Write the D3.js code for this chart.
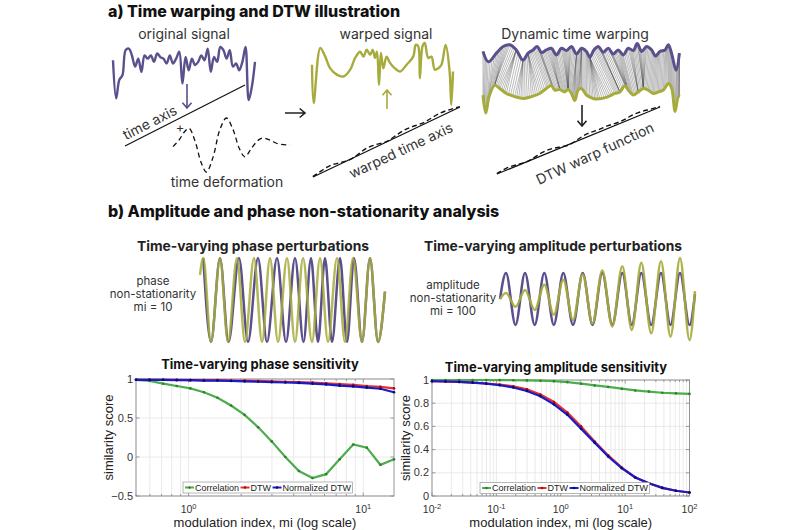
<!DOCTYPE html>
<html>
<head>
<meta charset="utf-8">
<script src="https://cdn.jsdelivr.net/npm/d3@7"></script>
<style>
  body { margin: 0; background: #fff; }
  svg text { font-family: Inter, "Open Sans", sans-serif; fill: #333; }
  .ax text { font-family: "Liberation Sans", Arial, sans-serif; }
</style>
</head>
<body>
<div id="fig"></div>
<script>
// ---- a) illustration signals, heights 0-100 ----
const origSignal = [75,3,38,47,94,97,84,63,78,53,84,78,84,72,88,81,78,69,84,69,78,91,31,81,56,78,66,72,84,75,97,53,81,72,100,94,78,94,63,69,56,72,100,0,25,72];

const warpedT = [0,1.2,5.9,9.4,12.9,17.6,22.4,27.1,30.6,34.1,36.5,38.8,41.2,43.1,44.7,46.1,47.5,48.9,50.6,52.9,55.3,58.8,62.4,67.1,71.8,73.6,75.3,76.5,78.4,80,82.4,84.7,87.1,89.4,91.8,94.8,97.6,98.8,100];
const warpedV = [65,3,92,78,59,49,46,57,76,86,78,89,81,89,76,86,32,84,59,78,68,59,54,65,78,97,95,43,95,100,76,78,57,59,65,97,54,0,54];

const dtwTopT = [0,2.7,6.8,10.2,13.6,16.9,20.3,22.9,25.4,27.5,29.7,32.2,34.7,37.3,39.8,42.4,44.9,47.5,50,52.5,54.2,56.3,58.5,61,63.6,66.1,68.6,71.2,73.7,76.3,78.3,80.5,83.1,85.6,87.6,89.8,92.4,94.1,95.8,98,99.7];
const dtwTopV = [71,35,65,88,94,76,41,65,76,88,67,76,82,59,82,74,88,62,82,71,51,76,88,68,82,62,76,59,82,74,98,71,88,76,55,71,76,94,62,6,65];
const dtwBotT = [0,1.4,3.1,5.9,8.5,11.9,16.1,20.3,24.6,28.8,32.2,34.7,36.4,39,41.5,43.2,44.9,46.6,48.3,50,52.5,55.9,59.3,63.6,66.9,69.5,72,73.7,76.3,78.8,81.4,83.9,86.4,89,91.5,94.1,95.8,97.5,99.2,100];
const dtwBotV = [58,0,53,89,79,63,53,47,53,63,79,89,74,76,68,76,63,40,74,79,58,47,46,53,63,68,89,74,58,68,79,74,63,68,74,95,79,5,53,53];

const deformT = [0,5.1,10,13.7,18.6,24.3,28.6,34.3,40,45.7,51.4,56.6,61.4,67.1,72.9,77.1,82.9,90,100];
const deformV = [47,59,75,81,59,16,0,28,78,100,78,44,28,44,59,63,59,52,50];

// small wiggles of the dashed warp curves around their axis
const warpAxisDev = [0,0.5,1,0.3,-0.5,0.2,1,0.6,-0.3,0.4,1,0.8,0.2,0.6,1,0.5,0];
const dtwWarpDev = [0,0.6,0.2,-0.4,0.5,1,0.4,-0.6,0.3,1,0.5,0.8,0.2,0.7,1,0.4,0];

// ---- b) perturbation waves: extrema times and values ----
const phaseOliveT = [0,3.3,11,20,28,37,45,54,62,70,78,87,95,103,112,120,128,137,145,153,162,170,178,185];
const phaseOliveV = [0.6,1,-1,1,-1,1,-1,1,-1,1,-1,1,-1,1,-1,1,-1,1,-1,1,-1,1,-1,0.2];
const phasePurpleT = [3.3,11,20,28.5,39,48,58,67,77,86,95,103.5,111,118,125,132,140,147,154,162,170,178,185];
const phasePurpleV = [1,-1,1,-1,1,-1,1,-1,1,-1,1,-1,1,-1,1,-1,1,-1,1,-1,1,-1,0.2];

const ampT = [0,6,15.5,25,34.7,44.3,53.8,63.3,73,82.7,92.5,102.3,112.3,122.3,131.8,141.3,151.2,161,170.5,180,189.5,195];
const ampPurpleV = [0,1,-1,1,-1,1,-1,1,-1,1,-1,1,-1,1,-1,1,-1,1,-1,1,-1,0.2];
const ampOliveV = [0,0.23,-0.3,0.35,-0.42,0.55,-0.6,0.74,-0.81,0.94,-0.94,1.1,-1.06,1.26,-1.19,1.39,-1.32,1.45,-1.45,1.58,-1.58,0.3];

// ---- b) sensitivity curves ----
const seriesNames = ["Correlation", "DTW", "Normalized DTW"];
const phaseMi = [0.5,0.598,0.715,0.855,1.023,1.224,1.463,1.750,2.093,2.504,2.994,3.581,4.283,5.123,6.127,7.327,8.764,10.48,12.54,15];
const corrPhase = [0.99,0.975,0.94,0.91,0.88,0.83,0.76,0.66,0.54,0.38,0.2,0.0,-0.18,-0.27,-0.22,-0.03,0.16,0.12,-0.1,-0.03];
const dtwPhase = [0.99,0.99,0.99,0.99,0.985,0.985,0.985,0.98,0.98,0.975,0.97,0.965,0.96,0.955,0.945,0.935,0.925,0.91,0.9,0.88];
const ndtwPhase = [0.99,0.99,0.99,0.985,0.985,0.98,0.98,0.975,0.97,0.965,0.96,0.955,0.95,0.94,0.93,0.915,0.905,0.89,0.875,0.83];

const ampMi = [0.01,0.0162,0.0264,0.0428,0.0695,0.113,0.183,0.298,0.483,0.785,1.27,2.07,3.36,5.46,8.86,14.4,23.4,37.9,61.6,100];
const corrAmp = [1,1,1,1,1,0.999,0.998,0.997,0.994,0.99,0.982,0.968,0.953,0.94,0.925,0.91,0.9,0.89,0.885,0.88];
const dtwAmp = [0.99,0.987,0.983,0.978,0.97,0.96,0.945,0.92,0.875,0.81,0.72,0.6,0.47,0.35,0.245,0.16,0.11,0.07,0.045,0.03];
const ndtwAmp = [0.99,0.987,0.983,0.977,0.968,0.955,0.935,0.905,0.86,0.79,0.7,0.58,0.46,0.34,0.24,0.16,0.11,0.07,0.045,0.03];

const W = 800, H = 530;
const purple = "#5b4f8c", olive = "#a6ab3b";

const svg = d3.select("#fig").append("svg").attr("width", W).attr("height", H);

function label(x, y, txt, size, opts = {}) {
  const t = svg.append("text").attr("x", x).attr("y", y).attr("font-size", size)
    .attr("text-anchor", opts.anchor || "middle").text(txt);
  if (opts.weight) t.attr("font-weight", opts.weight);
  if (opts.fill) t.style("fill", opts.fill);
  if (opts.rotate != null) t.attr("transform", `rotate(${opts.rotate},${x},${y})`);
  return t;
}

function arrow(x1, y1, x2, y2, color) {
  const a = Math.atan2(y2 - y1, x2 - x1), h = 7;
  svg.append("path")
    .attr("d", `M${x1},${y1}L${x2},${y2}` +
      `M${x2 - h * Math.cos(a - 0.7)},${y2 - h * Math.sin(a - 0.7)}L${x2},${y2}` +
      `L${x2 - h * Math.cos(a + 0.7)},${y2 - h * Math.sin(a + 0.7)}`)
    .attr("fill", "none").attr("stroke", color).attr("stroke-width", 1.6);
}

function warpAxis(p0, p1, dev) {
  svg.append("line").attr("x1", p0[0]).attr("y1", p0[1]).attr("x2", p1[0]).attr("y2", p1[1])
    .attr("stroke", "#111").attr("stroke-width", 1.2);
  if (!dev) return;
  const dx = p1[0] - p0[0], dy = p1[1] - p0[1], len = Math.hypot(dx, dy);
  const nx = dy / len, ny = -dx / len;
  const s = d3.scaleLinear([0, dev.length - 1], [0, 1]);
  const off = d3.scaleLinear([-1, 1], [-2.5, 3.5]);
  const pts = dev.map((d, i) => [p0[0] + s(i) * dx + off(d) * nx, p0[1] + s(i) * dy + off(d) * ny]);
  svg.append("path").attr("d", d3.line().curve(d3.curveBasis)(pts))
    .attr("fill", "none").attr("stroke", "#111").attr("stroke-width", 1.4).attr("stroke-dasharray", "5,3");
}

const smooth = d3.line().curve(d3.curveCatmullRom.alpha(0.5));

// ================= a) =================
label(108, 17, "a) Time warping and DTW illustration", 16, { anchor: "start", weight: 800, fill: "#111" });

// original signal
label(184, 39, "original signal", 14);
{
  const x = d3.scaleLinear([0, origSignal.length - 1], [113, 255]);
  const y = d3.scaleLinear([0, 100], [100, 47]);
  svg.append("path").attr("d", smooth(origSignal.map((v, i) => [x(i), y(v)])))
    .attr("fill", "none").attr("stroke", purple).attr("stroke-width", 2.4).attr("stroke-linejoin", "round");
}
arrow(187, 84, 187, 108, purple);
warpAxis([125, 146], [245, 85]);
label(152, 127, "time axis", 14, { rotate: -27 });
label(180, 132, "+", 13);

// time deformation
{
  const x = d3.scaleLinear([0, 100], [173, 290]);
  const y = d3.scaleLinear([0, 100], [172, 118]);
  svg.append("path").attr("d", smooth(deformT.map((t, i) => [x(t), y(deformV[i])])))
    .attr("fill", "none").attr("stroke", "#111").attr("stroke-width", 1.3).attr("stroke-dasharray", "5,3.5");
}
label(227, 187, "time deformation", 14);
arrow(285, 113, 305, 113, "#222");

// warped signal
label(386, 39, "warped signal", 14);
{
  const x = d3.scaleLinear([0, 100], [312, 453]);
  const y = d3.scaleLinear([0, 100], [105, 43]);
  svg.append("path").attr("d", smooth(warpedT.map((t, i) => [x(t), y(warpedV[i])])))
    .attr("fill", "none").attr("stroke", olive).attr("stroke-width", 2.4).attr("stroke-linejoin", "round");
}
arrow(387, 109, 387, 90, olive);
warpAxis([313, 177], [460, 107], warpAxisDev);
label(403, 155, "warped time axis", 14, { rotate: -25 });

// dynamic time warping
label(575, 39, "Dynamic time warping", 14);
{
  const x = d3.scaleLinear([0, 100], [483, 680]);
  const yTop = d3.scaleLinear([0, 100], [72, 43]);
  const yBot = d3.scaleLinear([0, 100], [113, 82]);
  const top = dtwTopT.map((t, i) => [x(t), yTop(dtwTopV[i])]);
  const bot = dtwBotT.map((t, i) => [x(t), yBot(dtwBotV[i])]);

  // classic DTW alignment between the two signals
  const n = dtwTopV.length, m = dtwBotV.length;
  const D = Array.from({ length: n + 1 }, () => new Array(m + 1).fill(Infinity));
  D[0][0] = 0;
  for (let i = 1; i <= n; i++)
    for (let j = 1; j <= m; j++) {
      const c = Math.abs(dtwTopV[i - 1] - dtwBotV[j - 1]) + 0.6 * Math.abs(dtwTopT[i - 1] - dtwBotT[j - 1]);
      D[i][j] = c + Math.min(D[i - 1][j], D[i][j - 1], D[i - 1][j - 1]);
    }
  const path = [];
  let i = n, j = m;
  while (i > 0 && j > 0) {
    path.push([i - 1, j - 1]);
    const a = D[i - 1][j - 1], b = D[i - 1][j], c = D[i][j - 1];
    if (a <= b && a <= c) { i--; j--; } else if (b < c) i--; else j--;
  }
  path.reverse();

  const links = [];
  const lerp = (p, q, f) => [p[0] + (q[0] - p[0]) * f, p[1] + (q[1] - p[1]) * f];
  for (let k = 0; k < path.length - 1; k++) {
    const [i0, j0] = path[k], [i1, j1] = path[k + 1];
    for (let f = 0; f < 1; f += 0.25)
      links.push([lerp(top[i0], top[i1], f), lerp(bot[j0], bot[j1], f)]);
  }
  svg.append("g").selectAll("line").data(links).join("line")
    .attr("x1", d => d[0][0]).attr("y1", d => d[0][1])
    .attr("x2", d => d[1][0]).attr("y2", d => d[1][1])
    .attr("stroke", "#555").attr("stroke-width", 0.5).attr("stroke-opacity", 0.8);

  svg.append("path").attr("d", smooth(top)).attr("fill", "none").attr("stroke", purple).attr("stroke-width", 3);
  svg.append("path").attr("d", smooth(bot)).attr("fill", "none").attr("stroke", olive).attr("stroke-width", 3);
}
arrow(582, 105, 582, 126, "#222");
warpAxis([497, 174], [660, 107], dtwWarpDev);
label(597, 158, "DTW warp function", 14, { rotate: -25 });

// ================= b) =================
label(108, 217, "b) Amplitude and phase non-stationarity analysis", 16, { anchor: "start", weight: 800, fill: "#111" });

const wave = d3.line().curve(d3.curveMonotoneX);

label(253, 251, "Time-varying phase perturbations", 13.8, { weight: 700, fill: "#222" });
label(153, 285, "phase", 11.5);
label(153, 298, "non-stationarity", 11.5);
label(153, 311, "mi = 10", 11.5);
{
  const x = d3.scaleLinear([0, 185], [200, 385]);
  const y = d3.scaleLinear([-1, 1], [342, 258]);
  svg.append("path").attr("d", wave(phasePurpleT.map((t, i) => [x(t), y(phasePurpleV[i])])))
    .attr("fill", "none").attr("stroke", purple).attr("stroke-width", 2.5);
  svg.append("path").attr("d", wave(phaseOliveT.map((t, i) => [x(t), y(phaseOliveV[i])])))
    .attr("fill", "none").attr("stroke", olive).attr("stroke-width", 2.5).attr("stroke-opacity", 0.85);
}

label(553, 251, "Time-varying amplitude perturbations", 13.8, { weight: 700, fill: "#222" });
label(453, 289, "amplitude", 11.5);
label(453, 302, "non-stationarity", 11.5);
label(453, 315, "mi = 100", 11.5);
{
  const x = d3.scaleLinear([0, 195], [500, 695]);
  const y = d3.scaleLinear([-1, 1], [325, 273]);
  svg.append("path").attr("d", wave(ampT.map((t, i) => [x(t), y(ampPurpleV[i])])))
    .attr("fill", "none").attr("stroke", purple).attr("stroke-width", 2.5);
  svg.append("path").attr("d", wave(ampT.map((t, i) => [x(t), y(ampOliveV[i])])))
    .attr("fill", "none").attr("stroke", olive).attr("stroke-width", 2.5).attr("stroke-opacity", 0.9);
}

// sensitivity charts
const seriesStyle = [
  { color: "#4cad4c", mark: "#2f7f2f" },
  { color: "#e8302a", mark: "#a01010" },
  { color: "#1a1ac8", mark: "#0a0a70" }
];

function sensitivityChart(cfg) {
  const g = svg.append("g").attr("class", "ax");
  const x = d3.scaleLog().domain(cfg.xDomain).range([cfg.x0, cfg.x1]);
  const y = d3.scaleLinear().domain(cfg.yDomain).range([cfg.y1, cfg.y0]);
  const minor = x.ticks();
  const majors = minor.filter(d => Math.abs(Math.log10(d) - Math.round(Math.log10(d))) < 1e-9);

  g.append("g").selectAll("line").data(minor).join("line")
    .attr("x1", d => x(d)).attr("x2", d => x(d)).attr("y1", cfg.y0).attr("y2", cfg.y1)
    .attr("stroke", "#e4e4e4").attr("stroke-width", 0.8);
  g.append("g").selectAll("line").data(cfg.yTicks).join("line")
    .attr("x1", cfg.x0).attr("x2", cfg.x1).attr("y1", d => y(d)).attr("y2", d => y(d))
    .attr("stroke", "#e4e4e4").attr("stroke-width", 0.8);
  // tick marks
  g.append("g").selectAll("path").data(minor).join("path")
    .attr("d", d => { const l = majors.includes(d) ? 3.5 : 2; return `M${x(d)},${cfg.y1}v${-l}M${x(d)},${cfg.y0}v${l}`; })
    .attr("stroke", "#777").attr("stroke-width", 0.7);
  g.append("g").selectAll("path").data(cfg.yTicks).join("path")
    .attr("d", d => `M${cfg.x0},${y(d)}h3.5M${cfg.x1},${y(d)}h-3.5`)
    .attr("stroke", "#777").attr("stroke-width", 0.7);
  g.append("rect").attr("x", cfg.x0).attr("y", cfg.y0)
    .attr("width", cfg.x1 - cfg.x0).attr("height", cfg.y1 - cfg.y0)
    .attr("fill", "none").attr("stroke", "#8a8a8a").attr("stroke-width", 0.9);

  // tick labels
  g.selectAll(".yt").data(cfg.yTicks).join("text")
    .attr("x", cfg.x0 - 3).attr("y", d => y(d) + 3.5).attr("text-anchor", "end")
    .attr("font-size", 11).style("fill", "#333").text(d => d3.format("~g")(d));
  g.selectAll(".xt").data(majors).join("text")
    .attr("x", d => x(d)).attr("y", cfg.y1 + 17).attr("text-anchor", "middle")
    .attr("font-size", 10.5).style("fill", "#333")
    .each(function (d) {
      const t = d3.select(this);
      t.append("tspan").text("10");
      t.append("tspan").attr("dy", -4).attr("font-size", 7.5).text(Math.round(Math.log10(d)));
    });
  g.append("text").attr("x", (cfg.x0 + cfg.x1) / 2).attr("y", cfg.y1 + 31).attr("text-anchor", "middle")
    .attr("font-size", 13).style("fill", "#222").text("modulation index, mi (log scale)");
  g.append("text").attr("transform", `translate(${cfg.yLabelX},${(cfg.y0 + cfg.y1) / 2}) rotate(-90)`)
    .attr("text-anchor", "middle").attr("font-size", 13).style("fill", "#222").text("similarity score");
  label(cfg.titleX, cfg.titleY, cfg.title, 13, { weight: 700, fill: "#111" });

  // series
  cfg.values.forEach((vals, k) => {
    const pts = cfg.mi.map((m, i) => [x(m), y(vals[i])]);
    g.append("path").attr("d", d3.line()(pts)).attr("fill", "none")
      .attr("stroke", seriesStyle[k].color).attr("stroke-width", 2.2);
    g.append("g").selectAll("circle").data(pts).join("circle")
      .attr("cx", d => d[0]).attr("cy", d => d[1]).attr("r", 1.3).attr("fill", seriesStyle[k].mark);
  });

  // legend
  const lg = g.append("g");
  const ly = cfg.legY;
  let cx = cfg.legX + 2;
  seriesNames.forEach((name, k) => {
    lg.append("line").attr("x1", cx).attr("x2", cx + 9).attr("y1", ly + 5.5).attr("y2", ly + 5.5)
      .attr("stroke", seriesStyle[k].color).attr("stroke-width", 2);
    lg.append("circle").attr("cx", cx + 4.5).attr("cy", ly + 5.5).attr("r", 1.3).attr("fill", seriesStyle[k].mark);
    const t = lg.append("text").attr("x", cx + 10).attr("y", ly + 8.8).attr("font-size", 9)
      .style("fill", "#222").text(name);
    cx += 10 + t.node().getComputedTextLength() + 1.5;
  });
  lg.insert("rect", ":first-child").attr("x", cfg.legX).attr("y", ly)
    .attr("width", cx - cfg.legX).attr("height", 11)
    .attr("fill", "#fff").attr("stroke", "#999").attr("stroke-width", 0.7);
}

sensitivityChart({
  title: "Time-varying phase sensitivity", titleX: 260, titleY: 369,
  xDomain: [0.5, 15], yDomain: [-0.5, 1], yTicks: [-0.5, 0, 0.5, 1],
  x0: 136, x1: 394, y0: 379, y1: 496, yLabelX: 113,
  mi: phaseMi, values: [corrPhase, dtwPhase, ndtwPhase],
  legX: 183, legY: 482
});

sensitivityChart({
  title: "Time-varying amplitude sensitivity", titleX: 556, titleY: 372,
  xDomain: [0.01, 100], yDomain: [0, 1], yTicks: [0, 0.2, 0.4, 0.6, 0.8, 1],
  x0: 432, x1: 689.5, y0: 380, y1: 496, yLabelX: 410,
  mi: ampMi, values: [corrAmp, dtwAmp, ndtwAmp],
  legX: 480, legY: 482.5
});
</script>
</body>
</html>
